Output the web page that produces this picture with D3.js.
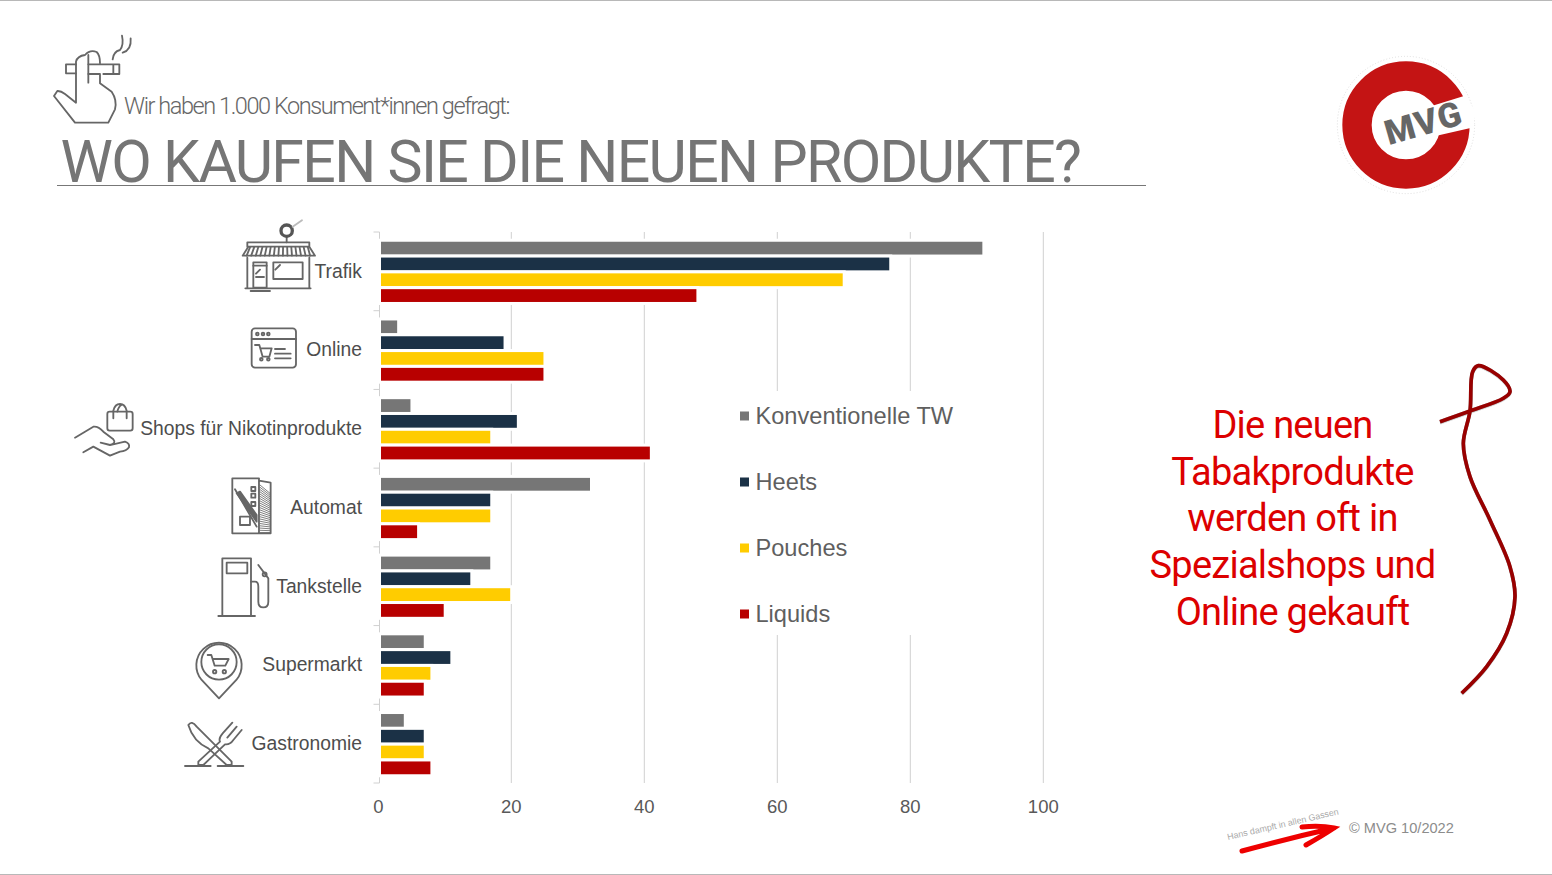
<!DOCTYPE html>
<html>
<head>
<meta charset="utf-8">
<script src="https://cdn.jsdelivr.net/npm/d3@7"></script>
<style>
body { margin: 0; background: #fff; }
svg { display: block; }
.icon { fill: none; stroke: #666; stroke-width: 5.5; stroke-linecap: round; stroke-linejoin: round; }
.cat, .leg, .tick text { font-family: "Liberation Sans", sans-serif; }
.swirl { filter: drop-shadow(0 1px 2px rgba(0,0,0,.5)); }
</style>
</head>
<body>
<div id="chart"></div>
<script>
// chart data
var categories = ["Trafik", "Online", "Shops für Nikotinprodukte", "Automat", "Tankstelle", "Supermarkt", "Gastronomie"];
var seriesNames = ["Konventionelle TW", "Heets", "Pouches", "Liquids"];
var konventionell = [91, 3, 5, 32, 17, 7, 4];
var heets = [77, 19, 21, 17, 14, 11, 7];
var pouches = [70, 25, 17, 17, 20, 8, 7];
var liquids = [48, 25, 41, 6, 10, 7, 8];
var tickLabels = [0, 20, 40, 60, 80, 100];
var seriesColors = ["#767676", "#1b3146", "#ffcc00", "#b80000"];
var noteLines = ["Die neuen", "Tabakprodukte", "werden oft in", "Spezialshops und", "Online gekauft"];

var seriesValues = [konventionell, heets, pouches, liquids];

var width = 1552;
var height = 875;

var svg = d3.select("#chart").append("svg")
    .attr("width", width)
    .attr("height", height);

// slide frame
svg.append("line").attr("x1", 0).attr("x2", width).attr("y1", 0.5).attr("y2", 0.5).attr("stroke", "#b8b8b8");
svg.append("line").attr("x1", 0).attr("x2", width).attr("y1", 874.5).attr("y2", 874.5).attr("stroke", "#b8b8b8");

// header
svg.append("text")
    .attr("x", 124).attr("y", 114)
    .attr("font-family", "Roboto").attr("font-weight", 300)
    .attr("font-size", 23.5).attr("letter-spacing", -1.43)
    .attr("fill", "#666")
    .text("Wir haben 1.000 Konsument*innen gefragt:");

svg.append("text")
    .attr("x", 60.5).attr("y", 182)
    .attr("font-family", "Roboto").attr("font-weight", 400)
    .attr("font-size", 59).attr("letter-spacing", -1.67)
    .attr("fill", "#757575")
    .text("WO KAUFEN SIE DIE NEUEN PRODUKTE?");

svg.append("line").attr("x1", 57).attr("x2", 1146).attr("y1", 185.5).attr("y2", 185.5).attr("stroke", "#777");

// scales
var x = d3.scaleLinear().domain([0, 100]).range([378.3, 1043.3]);
var y = d3.scaleBand().domain(categories).range([232, 783]);
var yInner = d3.scaleBand().domain(seriesNames).range([0.5, y.bandwidth() + 0.5]).paddingOuter(0.49);
var legendY = d3.scalePoint().domain(seriesNames).range([416, 614]);
var axisX = x(0) + 1.2;

// gridlines, the zero line is the category axis below
svg.append("g")
    .attr("transform", "translate(0,783)")
    .call(d3.axisBottom(x).tickValues(tickLabels.slice(1)).tickSize(-551).tickFormat("").offset(0))
    .call(function(g){ g.select(".domain").remove(); })
    .selectAll("line").attr("stroke", "#d0d0d0").attr("stroke-width", 1);

// category axis with outward ticks between the groups
svg.append("line")
    .attr("x1", axisX).attr("x2", axisX).attr("y1", 232).attr("y2", 783)
    .attr("stroke", "#d0d0d0");

svg.append("g").selectAll("line")
    .data(d3.range(categories.length + 1))
    .enter().append("line")
    .attr("x1", axisX - 6).attr("x2", axisX)
    .attr("y1", function(i){ return 232 + i * y.step(); })
    .attr("y2", function(i){ return 232 + i * y.step(); })
    .attr("stroke", "#d0d0d0");

// bars, the white outline is what cuts the gridlines
seriesNames.forEach(function(name, s){
    svg.append("g").selectAll("rect")
        .data(seriesValues[s])
        .enter().append("rect")
        .attr("x", axisX)
        .attr("y", function(d, i){ return y(categories[i]) + yInner(name); })
        .attr("width", function(d){ return x(d) - axisX + 0.4; })
        .attr("height", yInner.bandwidth())
        .attr("fill", seriesColors[s])
        .attr("stroke", "#fff")
        .attr("stroke-width", 3);
});

// tick labels
var xAxis = svg.append("g")
    .attr("transform", "translate(0,783)")
    .call(d3.axisBottom(x).tickValues(tickLabels).tickSize(0).tickPadding(17).offset(0));
xAxis.select(".domain").remove();
xAxis.selectAll("text").attr("font-size", 18.5).attr("fill", "#595959");

// category labels
svg.append("g").selectAll("text")
    .data(categories)
    .enter().append("text")
    .attr("class", "cat")
    .attr("x", 362)
    .attr("y", function(d){ return y(d) + y.bandwidth() / 2 + 0.5; })
    .attr("dy", "0.3em")
    .attr("text-anchor", "end")
    .attr("font-size", 19.3)
    .attr("fill", "#4d4d4d")
    .text(function(d){ return d; });

// legend sits on a white box over the gridlines
svg.append("rect").attr("x", 735).attr("y", 391).attr("width", 265).attr("height", 244).attr("fill", "#fff");

var legend = svg.append("g").selectAll("g")
    .data(seriesNames)
    .enter().append("g")
    .attr("transform", function(d){ return "translate(740," + legendY(d) + ")"; });

legend.append("rect")
    .attr("y", -4.5).attr("width", 9).attr("height", 9)
    .attr("fill", function(d, i){ return seriesColors[i]; });

legend.append("text")
    .attr("class", "leg")
    .attr("x", 15.5).attr("dy", "0.35em")
    .attr("font-size", 23.6)
    .attr("fill", "#5f5f5f")
    .text(function(d){ return d; });

// red note on the right
svg.append("g").selectAll("text")
    .data(noteLines)
    .enter().append("text")
    .attr("x", 1292.5)
    .attr("y", function(d, i){ return 438 + i * 46.7; })
    .attr("text-anchor", "middle")
    .attr("font-family", "Roboto")
    .attr("font-size", 38)
    .attr("letter-spacing", -0.75)
    .attr("fill", "#dc0000")
    .text(function(d){ return d; });

// hand drawn bow next to the note
var swirlPoints = [[60,215],[150,183],[250,145],[270,125],[250,90],[175,47],[158,65],[150,183],[130,280],[150,380],[210,510],[270,650],[285,740],[260,850],[200,950],[125,1030]];
svg.append("path")
    .attr("class", "swirl")
    .attr("transform", "translate(1420,350) scale(0.3333)")
    .attr("d", d3.line().curve(d3.curveCatmullRom)(swirlPoints))
    .attr("fill", "none")
    .attr("stroke", "#990000")
    .attr("stroke-width", 11);

// logo
var logo = svg.append("g").attr("transform", "translate(1320,45) scale(0.3333)");
logo.append("circle").attr("cx", 258).attr("cy", 240).attr("r", 206)
    .attr("fill", "none").attr("stroke", "#ddd").attr("stroke-width", 3).attr("stroke-dasharray", "3 6");
logo.append("circle").attr("cx", 258).attr("cy", 240).attr("r", 147)
    .attr("fill", "none").attr("stroke", "#c41414").attr("stroke-width", 88);
logo.append("path").attr("d", "M335 183 L432 153 L470 200 L455 248 L350 272 Z").attr("fill", "#fff");
logo.append("text")
    .attr("transform", "translate(320,268) rotate(-16)")
    .attr("text-anchor", "middle")
    .attr("font-family", "Roboto").attr("font-weight", 900)
    .attr("font-size", 103).attr("letter-spacing", 3)
    .attr("fill", "#666")
    .text("MVG");

// footer
svg.append("text")
    .attr("transform", "translate(1228,840) rotate(-13)")
    .attr("font-family", "Liberation Sans").attr("font-size", 8.9)
    .attr("fill", "#aaa")
    .text("Hans dampft in allen Gassen");
svg.append("path")
    .attr("d", "M1242 851 Q1290 838 1334 828 M1302 827 Q1320 825 1334 828 Q1322 836 1306 845")
    .attr("fill", "none").attr("stroke", "#ee0000").attr("stroke-width", 5).attr("stroke-linecap", "round");
svg.append("text")
    .attr("x", 1349).attr("y", 833)
    .attr("font-family", "Liberation Sans").attr("font-size", 14.6)
    .attr("fill", "#8c8c8c")
    .text("© MVG 10/2022");

// icons, traced in 3x crop coordinates
function icon(ox, oy){
    return svg.append("g").attr("class", "icon").attr("transform", "translate(" + ox + "," + oy + ") scale(0.3333)");
}

var hand = icon(40, 20);
hand.append("path").attr("d", "M180 165 V190 L215 215 Q232 240 225 268 L205 308 H105 L42 228 L52 213 Q62 212 75 222 L108 248 V125 Q112 108 135 105 Q150 88 170 96 Q180 105 180 130 M145 105 V188");
hand.append("path").attr("d", "M108 133 H78 V160 H108 M145 133 H238 V162 H190 M145 162 H180 M220 135 V160");
hand.append("path").attr("d", "M218 118 Q220 95 240 90 Q252 75 246 47 M248 98 Q275 90 272 55");

var trafik = icon(170, 215);
trafik.append("path").attr("d", "M218 122 L235 95 H418 L435 122 Z M232 95 V82 H418 V95 M232 128 V218 M418 128 V218 M226 220 H422 M242 228 H300");
trafik.append("g").selectAll("line").data(d3.range(15)).enter().append("line")
    .attr("x1", function(i){ return 240 + i * 12.4; }).attr("x2", function(i){ return 230 + i * 13.6; })
    .attr("y1", 97).attr("y2", 122);
trafik.append("rect").attr("x", 250).attr("y", 142).attr("width", 40).attr("height", 76);
trafik.append("rect").attr("x", 310).attr("y", 142).attr("width", 88).attr("height", 50);
trafik.append("path").attr("d", "M250 152 H290 M258 186 H282 M258 176 L270 164 M316 164 L330 150 M350 65 V82");
trafik.append("circle").attr("cx", 350).attr("cy", 47).attr("r", 17).attr("stroke-width", 10).attr("stroke", "#555");
trafik.append("path").attr("d", "M368 35 L396 16").attr("stroke", "#bbb");

var online = icon(170, 215);
online.append("rect").attr("x", 245).attr("y", 340).attr("width", 133).attr("height", 118).attr("rx", 10);
online.append("path").attr("d", "M245 372 H378 M255 390 H268 L278 425 H298 L305 400 H272 M315 402 H345 M315 416 H362 M315 430 H362");
[262, 279, 295].forEach(function(cx){ online.append("circle").attr("cx", cx).attr("cy", 357).attr("r", 4); });
[274, 295].forEach(function(cx){ online.append("circle").attr("cx", cx).attr("cy", 433).attr("r", 4); });

var shops = icon(60, 390);
shops.append("rect").attr("x", 142).attr("y", 65).attr("width", 76).attr("height", 57).attr("rx", 7);
shops.append("path").attr("d", "M160 85 V62 Q165 42 180 42 Q195 42 200 62 V85 M172 65 Q175 50 185 44");
shops.append("path").attr("d", "M45 143 L100 110 Q115 108 130 125 L160 148 Q170 160 150 165 L122 158 M150 165 Q185 158 195 155 Q210 160 207 172 Q200 183 180 185 L150 197 L100 170 L70 187");

var automat = icon(60, 390);
automat.append("path").attr("d", "M517 265 H597 V430 H517 Z M597 272 L632 278 V430 H597 M525 298 L590 410");
automat.append("path").attr("d", "M530 310 L540 305 L590 375 L590 395 Z").attr("fill", "#666");
d3.range(22).forEach(function(i){
    automat.append("line").attr("x1", 600).attr("x2", 630)
        .attr("y1", 285 + i * 6.8).attr("y2", 310 + i * 5.6).attr("stroke-width", 2.5);
});
[297, 317, 342].forEach(function(sy){ automat.append("rect").attr("x", 574).attr("y", sy - 6).attr("width", 12).attr("height", 12); });
automat.append("rect").attr("x", 540).attr("y", 380).attr("width", 30).attr("height", 25);

var tank = icon(170, 545);
tank.append("rect").attr("x", 157).attr("y", 40).attr("width", 86).attr("height", 173);
tank.append("rect").attr("x", 170).attr("y", 53).attr("width", 62).attr("height", 32);
tank.append("path").attr("d", "M145 213 H255 M243 110 H255 Q265 110 265 125 V170 Q265 187 280 187 Q295 187 295 170 V100 L265 60");
tank.append("circle").attr("cx", 284).attr("cy", 88).attr("r", 6);

var supermarkt = icon(170, 545);
supermarkt.append("path").attr("d", "M147 460 L95 405 A68 68 0 1 1 199 405 Z");
supermarkt.append("circle").attr("cx", 147).attr("cy", 351).attr("r", 53);
supermarkt.append("path").attr("d", "M113 330 H124 L134 362 H166 L176 342 H128");
[134, 163].forEach(function(cx){ supermarkt.append("circle").attr("cx", cx).attr("cy", 380).attr("r", 5); });

var gastro = icon(170, 545);
gastro.append("path").attr("d", "M45 663 H122 M143 663 H220");
gastro.append("path").attr("d", "M55 540 Q65 525 80 545 L185 650 V660 H170 L115 610 Q70 590 55 540 Z");
gastro.append("path").attr("d", "M187 533 L158 565 Q145 580 150 590 L85 650 V660 H100 L165 598 Q180 600 190 585 L215 555 M200 545 L172 578");
</script>
</body>
</html>
